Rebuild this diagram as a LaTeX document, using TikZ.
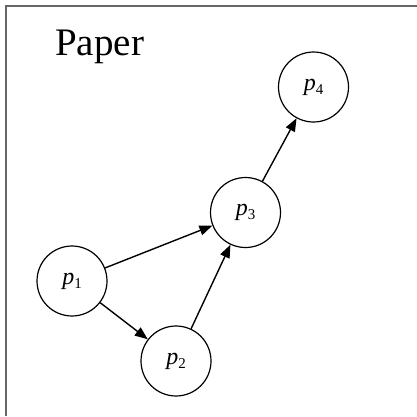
\documentclass[tikz,border=0pt]{standalone}
\usepackage{fontspec}
\setmainfont{Liberation Serif}
\usetikzlibrary{arrows.meta}
\newcommand{\plabel}[1]{\textit{p}\raisebox{-4pt}{\fontsize{15}{16}\selectfont #1}}
\begin{document}
\begin{tikzpicture}[x=1pt,y=-1pt,
  pnode/.style={circle,draw,line width=1.2pt,minimum size=70pt,inner sep=0pt,font=\fontsize{24}{26}\selectfont},
  conn/.style={line width=1.4pt,-{Triangle[length=13pt,width=10pt]}},
  frameline/.style={draw=black!60,line width=2.2pt}]
\useasboundingbox (0,0) rectangle (417,416);
\coordinate (tl) at (6,6);
\coordinate (tr) at (417,6);
\coordinate (bl) at (6,416);
\draw[frameline] (tr) -- (tl) -- (bl);
\node[anchor=base west,inner sep=0pt,font=\fontsize{39}{40}\selectfont] (title) at (55,55) {Paper};
\node[pnode] (p1) at (72,281) {\plabel{1}};
\node[pnode] (p2) at (176,361) {\plabel{2}};
\node[pnode] (p3) at (245.5,212.5) {\plabel{3}};
\node[pnode] (p4) at (313.5,87) {\plabel{4}};
\draw[conn] (p1) -- (p3);
\draw[conn] (p1) -- (p2);
\draw[conn] (p2) -- (p3);
\draw[conn] (p3) -- (p4);
\end{tikzpicture}
\end{document}
